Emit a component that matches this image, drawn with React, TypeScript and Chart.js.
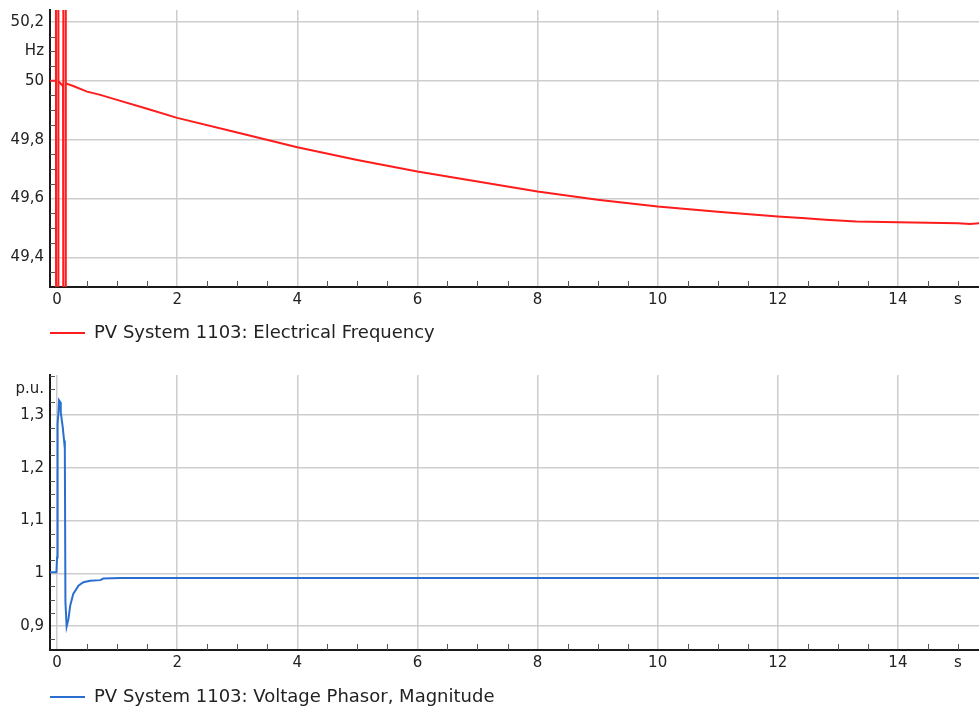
import React, { useEffect, useRef } from 'react';
import { Chart, registerables } from 'chart.js';

Chart.register(...registerables);

const FONT_FAMILY = "'DejaVu Sans', 'Liberation Sans', sans-serif";
const TEXT_COLOR = '#222222';
const GRID_COLOR = '#cdcdcd';
const AXIS_COLOR = '#1a1a1a';

// ---- Time axis (shared) ----
const timeMin = -0.117;
const timeMax = 15.35;
const timeMajorTicks = [0, 2, 4, 6, 8, 10, 12, 14];
const timeTickLabels = ['0', '2', '4', '6', '8', '10', '12', '14'];
const timeMinorStep = 0.5;
const timeUnitTick = 15;
const timeUnitLabel = 's';

// ---- Panel 1: Electrical Frequency ----
const freqLabel = 'PV System 1103: Electrical Frequency';
const freqColor = '#ff1c1c';
const freqTime = [
  -0.117, -0.02, -0.018, -0.016, 0.02, 0.022, 0.024, 0.1, 0.103, 0.105, 0.107, 0.143, 0.145, 0.147,
  0.16, 0.27, 0.5, 0.72, 1, 1.5, 2, 3, 4, 5, 6, 7, 8, 9, 10, 11, 12, 12.4, 12.8, 13.3, 14, 15, 15.2, 15.35,
];
const freqValues = [
  50, 50, 50.5, 49.1, 49.1, 50.5, 49.998, 49.982, 49.982, 50.5, 49.1, 49.1, 50.5, 49.993,
  49.99, 49.982, 49.963, 49.952, 49.935, 49.905, 49.874, 49.824, 49.774, 49.731, 49.692, 49.658, 49.624, 49.596,
  49.573, 49.555, 49.539, 49.534, 49.528, 49.522, 49.52, 49.516, 49.514, 49.516,
];
const freqMin = 49.3;
const freqMax = 50.24;
const freqMajorTicks = [49.4, 49.6, 49.8, 50, 50.2];
const freqTickLabels = ['49,4', '49,6', '49,8', '50', '50,2'];
const freqMinorStart = 49.35;
const freqMinorEnd = 50.2;
const freqMinorStep = 0.05;
const freqUnitTick = 50.1;
const freqUnitLabel = 'Hz';

// ---- Panel 2: Voltage Phasor, Magnitude ----
const voltLabel = 'PV System 1103: Voltage Phasor, Magnitude';
const voltColor = '#2a6fd0';
const voltTime = [
  -0.117, -0.01, 0.0, 0.004, 0.01, 0.015, 0.022, 0.033, 0.05, 0.062, 0.095, 0.117, 0.13, 0.14, 0.16,
  0.19, 0.22, 0.27, 0.36, 0.44, 0.55, 0.72, 0.77, 1.05, 15.35,
];
const voltValues = [
  1.002, 1.002, 1.03, 1.11, 1.24, 1.284, 1.302, 1.328, 1.325, 1.305, 1.277, 1.252, 1.236, 0.945, 0.899,
  0.913, 0.939, 0.961, 0.977, 0.983, 0.986, 0.987, 0.99, 0.991, 0.991,
];
const voltMin = 0.8545;
const voltMax = 1.376;
const voltMajorTicks = [0.9, 1, 1.1, 1.2, 1.3];
const voltTickLabels = ['0,9', '1', '1,1', '1,2', '1,3'];
const voltMinorStart = 0.875;
const voltMinorEnd = 1.375;
const voltMinorStep = 0.025;
const voltUnitTick = 1.35;
const voltUnitLabel = 'p.u.';

const key = (v: number) => Math.round(v * 1000);

function range(start: number, end: number, step: number): number[] {
  const out: number[] = [];
  const n = Math.round((end - start) / step);
  for (let i = 0; i <= n; i++) out.push(Math.round((start + i * step) * 10000) / 10000);
  return out;
}

type PanelSpec = {
  label: string;
  color: string;
  t: number[];
  v: number[];
  yMin: number;
  yMax: number;
  yMajor: number[];
  yLabels: string[];
  yMinorStart: number;
  yMinorEnd: number;
  yMinorStep: number;
  yUnitTick: number;
  yUnitLabel: string;
  padTop: number;
  padBottom: number;
  xAxisHeight: number;
};

function buildChart(canvas: HTMLCanvasElement, p: PanelSpec) {
  const xMajorKeys = new Set(timeMajorTicks.map(key));
  const yMajorKeys = new Set(p.yMajor.map(key));
  const xTicks = range(0, timeUnitTick, timeMinorStep);
  const yTicks = range(p.yMinorStart, p.yMinorEnd, p.yMinorStep);

  const xLabel = (v: number) => {
    const i = timeMajorTicks.findIndex((m) => key(m) === key(v));
    if (i >= 0) return timeTickLabels[i];
    if (key(v) === key(timeUnitTick)) return timeUnitLabel;
    return '';
  };
  const yLabel = (v: number) => {
    const i = p.yMajor.findIndex((m) => key(m) === key(v));
    if (i >= 0) return p.yLabels[i];
    if (key(v) === key(p.yUnitTick)) return p.yUnitLabel;
    return '';
  };

  const innerTicks = {
    id: 'innerTicks',
    beforeDatasetsDraw(chart: any) {
      const { ctx, chartArea: a, scales } = chart;
      ctx.save();
      ctx.strokeStyle = '#555555';
      ctx.lineWidth = 1;
      const xs = scales.x;
      xs.ticks.forEach((t: any) => {
        if (xMajorKeys.has(key(t.value))) return;
        const px = Math.round(xs.getPixelForValue(t.value)) + 0.5;
        ctx.beginPath();
        ctx.moveTo(px, a.bottom);
        ctx.lineTo(px, a.bottom - 6);
        ctx.stroke();
      });
      const ys = scales.y;
      ys.ticks.forEach((t: any) => {
        if (yMajorKeys.has(key(t.value))) return;
        const py = Math.round(ys.getPixelForValue(t.value)) + 0.5;
        ctx.beginPath();
        ctx.moveTo(a.left, py);
        ctx.lineTo(a.left + 5, py);
        ctx.stroke();
      });
      ctx.restore();
    },
  };

  return new Chart(canvas, {
    type: 'line',
    data: {
      datasets: [
        {
          label: p.label,
          data: p.t.map((t, i) => ({ x: t, y: p.v[i] })),
          borderColor: p.color,
          backgroundColor: p.color,
          borderWidth: 2,
          pointRadius: 0,
          tension: 0,
          fill: false,
        },
      ],
    },
    options: {
      animation: false,
      responsive: true,
      maintainAspectRatio: false,
      events: [],
      layout: { padding: { top: p.padTop, left: 0, right: 0, bottom: p.padBottom } },
      scales: {
        x: {
          type: 'linear',
          min: timeMin,
          max: timeMax,
          afterBuildTicks: (s: any) => {
            s.ticks = xTicks.map((v) => ({ value: v }));
          },
          afterFit: (s: any) => {
            s.height = p.xAxisHeight;
            s.paddingLeft = 0;
            s.paddingRight = 0;
          },
          grid: {
            color: (c: any) => (c.tick && xMajorKeys.has(key(c.tick.value)) ? GRID_COLOR : 'rgba(0,0,0,0)'),
            lineWidth: 1.5,
            drawTicks: false,
          },
          border: { display: true, color: AXIS_COLOR, width: 2 },
          ticks: {
            autoSkip: false,
            maxRotation: 0,
            padding: 4,
            color: TEXT_COLOR,
            font: { family: FONT_FAMILY, size: 15 },
            callback: (v: any) => xLabel(Number(v)),
          },
        },
        y: {
          type: 'linear',
          min: p.yMin,
          max: p.yMax,
          afterBuildTicks: (s: any) => {
            s.ticks = yTicks.map((v) => ({ value: v }));
          },
          afterFit: (s: any) => {
            s.width = 50;
            s.paddingTop = 0;
            s.paddingBottom = 0;
          },
          grid: {
            color: (c: any) => (c.tick && yMajorKeys.has(key(c.tick.value)) ? GRID_COLOR : 'rgba(0,0,0,0)'),
            lineWidth: 1.5,
            drawTicks: false,
          },
          border: { display: true, color: AXIS_COLOR, width: 2 },
          ticks: {
            autoSkip: false,
            padding: 6,
            color: TEXT_COLOR,
            font: { family: FONT_FAMILY, size: 15 },
            callback: (v: any) => yLabel(Number(v)),
          },
        },
      },
      plugins: {
        legend: {
          display: true,
          position: 'bottom',
          align: 'start',
          fullSize: false,
          maxHeight: 22,
          labels: {
            usePointStyle: true,
            pointStyle: 'line',
            pointStyleWidth: 35,
            padding: 0,
            color: TEXT_COLOR,
            font: { family: FONT_FAMILY, size: 18 },
          },
        },
        tooltip: { enabled: false },
      },
    } as any,
    plugins: [innerTicks],
  });
}

export default function App() {
  const topRef = useRef<HTMLCanvasElement | null>(null);
  const bottomRef = useRef<HTMLCanvasElement | null>(null);

  useEffect(() => {
    if (!topRef.current || !bottomRef.current) return;
    const c1 = buildChart(topRef.current, {
      label: freqLabel,
      color: freqColor,
      t: freqTime,
      v: freqValues,
      yMin: freqMin,
      yMax: freqMax,
      yMajor: freqMajorTicks,
      yLabels: freqTickLabels,
      yMinorStart: freqMinorStart,
      yMinorEnd: freqMinorEnd,
      yMinorStep: freqMinorStep,
      yUnitTick: freqUnitTick,
      yUnitLabel: freqUnitLabel,
      padTop: 10,
      padBottom: 8,
      xAxisHeight: 37,
    });
    const c2 = buildChart(bottomRef.current, {
      label: voltLabel,
      color: voltColor,
      t: voltTime,
      v: voltValues,
      yMin: voltMin,
      yMax: voltMax,
      yMajor: voltMajorTicks,
      yLabels: voltTickLabels,
      yMinorStart: voltMinorStart,
      yMinorEnd: voltMinorEnd,
      yMinorStep: voltMinorStep,
      yUnitTick: voltUnitTick,
      yUnitLabel: voltUnitLabel,
      padTop: 20,
      padBottom: 1,
      xAxisHeight: 38,
    });
    return () => {
      c1.destroy();
      c2.destroy();
    };
  }, []);

  return (
    <div
      style={{
        position: 'absolute',
        left: 0,
        top: 0,
        width: 979,
        height: 711,
        overflow: 'hidden',
        background: '#ffffff',
      }}
    >
      <div style={{ position: 'absolute', left: 0, top: 0, width: 979, height: 354 }}>
        <canvas ref={topRef} />
      </div>
      <div style={{ position: 'absolute', left: 0, top: 355, width: 979, height: 356 }}>
        <canvas ref={bottomRef} />
      </div>
    </div>
  );
}
